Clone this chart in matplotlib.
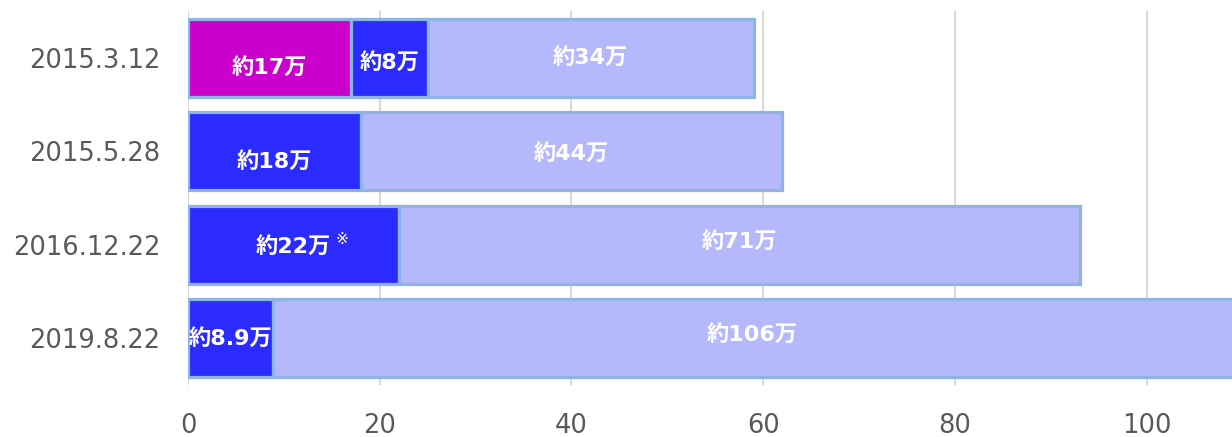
import matplotlib
matplotlib.use("Agg")
import matplotlib.pyplot as plt
import numpy as np

plt.rcParams['font.family'] = ['DejaVu Sans', 'Noto Sans CJK JP']

categories = ["2015.3.12", "2015.5.28", "2016.12.22", "2019.8.22"]
seg1 = [17, 0, 0, 0]
seg2 = [8, 18, 22, 8.9]
seg3 = [34, 44, 71, 106]
labels1 = ["約17万", "", "", ""]
labels2 = ["約8万", "約18万", "約22万", "約8.9万"]
labels3 = ["約34万", "約44万", "約71万", "約106万"]
notes2 = ["", "", "※", ""]
xticks = [0, 20, 40, 60, 80, 100]

c1 = "#CC00CC"
c2 = "#2B2BFF"
c3 = "#B6B8FC"
edge = "#8DB4E2"

fig = plt.figure(figsize=(12.32, 4.37), dpi=100)
ax = fig.add_axes([188/1232, 52/437, 1 - 188/1232, 374/437])

y = np.arange(len(categories))
h = 0.83
xmax = 108.9

s1 = np.array(seg1, float)
s2 = np.array(seg2, float)
s3 = np.array(seg3, float)

for vals, left, col in [(s1, np.zeros(4), c1), (s2, s1, c2), (s3, s1 + s2, c3)]:
    mask = vals > 0
    ax.barh(y[mask], vals[mask], left=left[mask], height=h, color=col,
            edgecolor=edge, linewidth=2.3, zorder=3)

def put(lbls, vals, left, dy):
    for i, (t, v, l) in enumerate(zip(lbls, vals, left)):
        if not t:
            continue
        r = min(l + v, xmax)
        cx = (l + r) / 2
        ax.text(cx, i + dy[i], t, color="white", fontsize=16, fontweight="bold",
                ha="center", va="center", zorder=5)

put(labels1, s1, np.zeros(4), [0.10, 0, 0, 0])
put(labels2, s2, s1, [0.05, 0.11, 0.02, 0.0])
put(labels3, s3, s1 + s2, [0.0, 0.02, -0.04, -0.04])

for i, n in enumerate(notes2):
    if n:
        cx = s1[i] + s2[i] / 2
        ax.annotate(n, (cx, i), xytext=(35, 4), textcoords="offset points",
                    color="white", fontsize=11,
                    ha="center", va="center", zorder=5)

ax.set_xlim(0, xmax)
ax.set_ylim(len(categories) - 0.5, -0.5)
ax.set_yticks(y)
ax.set_yticklabels(categories)
ax.set_xticks(xticks)
ax.tick_params(axis="y", length=0, pad=20, labelsize=18.5, labelcolor="#595959")
ax.tick_params(axis="x", length=0, pad=20, labelsize=18.5, labelcolor="#595959")
for s in ax.spines.values():
    s.set_visible(False)
ax.grid(axis="x", color="#D9D9D9", linewidth=1.5, zorder=0)
ax.set_axisbelow(True)

fig.savefig("out.png", dpi=100)
